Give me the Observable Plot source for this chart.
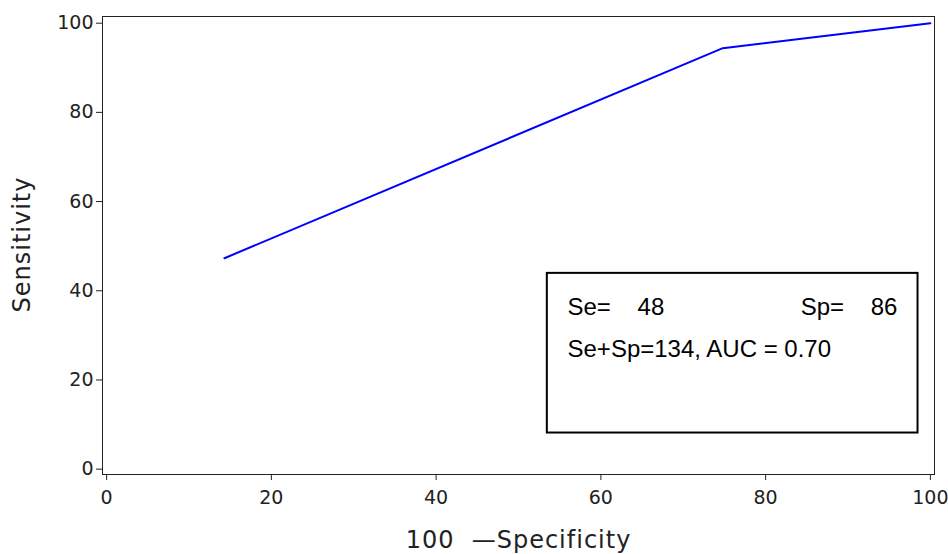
<!DOCTYPE html>
<html><head><meta charset="utf-8">
<script src="https://cdn.jsdelivr.net/npm/d3@7"></script>
<script src="https://cdn.jsdelivr.net/npm/@observablehq/plot@0.6"></script>
<style>
body{margin:0;background:#fff}
svg text{white-space:pre}
</style></head><body><div id="chart"></div>
<script>
// ROC curve points (100 - Specificity, Sensitivity)
const oneMinusSpec = [14.3, 74.8, 100];
const sensitivity = [47.3, 94.4, 100];
const xTicks = [0, 20, 40, 60, 80, 100];
const yTicks = [0, 20, 40, 60, 80, 100];
const se = 48, sp = 86, auc = 0.70;
const xLabel = "100  \u2014Specificity";
const yLabel = "Sensitivity";

const pts = oneMinusSpec.map((x, i) => ({x, y: sensitivity[i]}));

const plot = Plot.plot({
  width: 948, height: 554,
  marginLeft: 102, marginRight: 14, marginTop: 16, marginBottom: 80,
  x: {domain: [-0.5, 100.5]},
  y: {domain: [-1.2, 101.5]},
  style: {fontFamily: "DejaVu Sans", fontSize: "18px", color: "#222", background: "#fff"},
  marks: [
    Plot.frame({stroke: "#222"}),
    Plot.axisX({ticks: xTicks, tickSize: 6, tickPadding: 10, label: null, fontSize: 19, tickFormat: d => d}),
    Plot.axisY({ticks: yTicks, tickSize: 6, tickPadding: 3, label: null, fontSize: 19, tickFormat: d => d}),
    Plot.line(pts, {x: "x", y: "y", stroke: "#0000ff", strokeWidth: 2}),
    Plot.rect([0], {x1: 53.5, x2: 98.5, y1: 8.1, y2: 43.9, fill: "none", stroke: "#000", strokeWidth: 2}),
    Plot.text([`Se=    ${se}`], {x: 55.95, y: 36.4, textAnchor: "start", fontFamily: "Liberation Sans", fontSize: 24, fill: "#000"}),
    Plot.text([`Sp=    ${sp}`], {x: 96.0, y: 36.4, textAnchor: "end", fontFamily: "Liberation Sans", fontSize: 24, fill: "#000"}),
    Plot.text([`Se+Sp=${se + sp}, AUC = ${auc.toFixed(2)}`], {x: 55.95, y: 26.8, textAnchor: "start", fontFamily: "Liberation Sans", fontSize: 24, fill: "#000"}),
    Plot.text([yLabel], {frameAnchor: "left", dx: -80, dy: 67, rotate: -90, fontSize: 24, fill: "#222"}),
    Plot.text([xLabel], {frameAnchor: "bottom", dy: 73, fontSize: 24, fill: "#222"})
  ]
});
d3.select(plot).selectAll("text")
  .filter(function () { return this.textContent === yLabel || this.textContent === xLabel; })
  .attr("letter-spacing", 1);
document.getElementById("chart").appendChild(plot);
</script></body></html>
